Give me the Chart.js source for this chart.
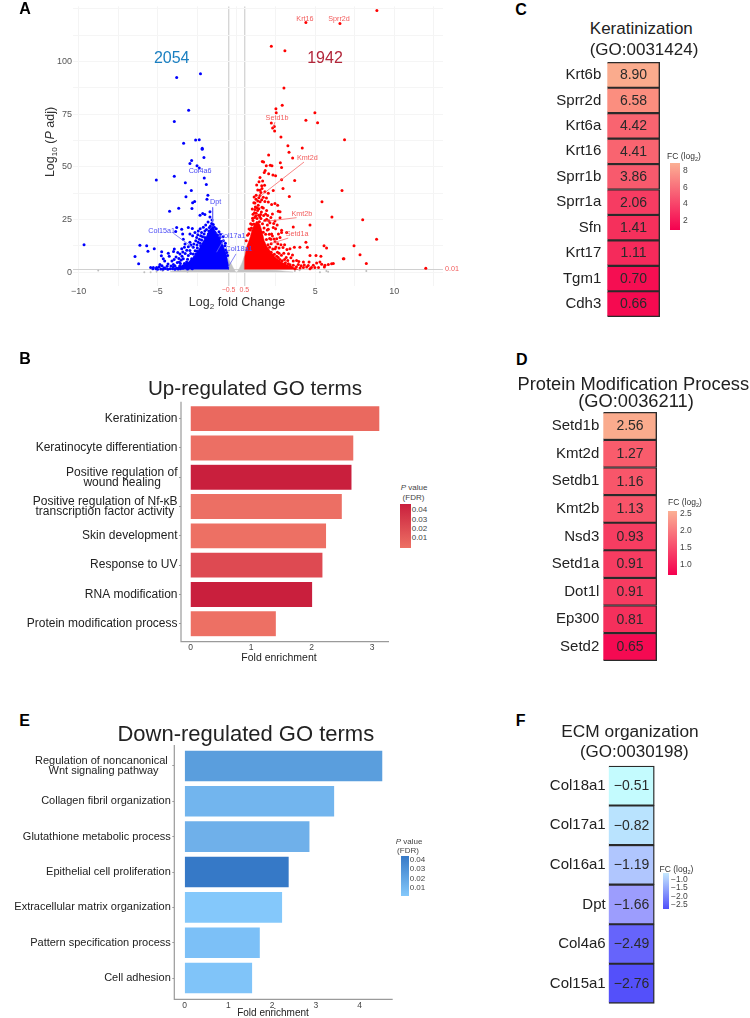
<!DOCTYPE html>
<html>
<head>
<meta charset="utf-8">
<title>Volcano, GO terms and heatmaps</title>
<script src="https://cdn.jsdelivr.net/npm/chart.js@4/dist/chart.umd.min.js"></script>
<style>
  html, body { margin: 0; padding: 0; background: #fff; width: 750px; height: 1018px; overflow: hidden; }
  canvas { position: absolute; }
  .txt { position: absolute; white-space: nowrap; transform: translate(-50%, -50%); font-family: "Liberation Sans", Arial, sans-serif; color: #222; line-height: 1; }
  .txt sub { font-size: 65%; line-height: 0; }
  .bar { position: absolute; }
</style>
</head>
<body>
<script>
// Panel A: volcano, values as [log2FC, -log10 padj]
const volcanoXTicks = [-10, -7.5, -5, -2.5, -0.5, 0, 0.5, 2.5, 5, 7.5, 10, 12.5];
const volcanoXLabels = { '-10': '−10', '-5': '−5', '-0.5': '−0.5', '0.5': '0.5', '5': '5', '10': '10' };
const volcanoYTicks = [0, 12.5, 25, 37.5, 50, 62.5, 75, 87.5, 100, 112.5, 125];
const volcanoYLabels = { '0': '0', '25': '25', '50': '50', '75': '75', '100': '100' };

const bluePoints = [
  [-2.28,94.2],[-3.79,92.5],[-3.03,76.9],[-3.94,71.5],[-3.35,61.2],[-2.59,62.8],[-2.36,62.9],[-2.17,58.9],[-2.17,58.4],[-2.06,54.5],
  [-2.84,53],[-2.95,51.6],[-2.5,50.5],[-2.36,49.5],[-3.94,45.6],[-5.08,43.8],[-2.04,44.7],[-3.24,42.5],[-1.91,41.6],[-2.86,38.8],
  [-3.2,35.8],[-1.81,36.6],[-1.87,34.7],[-2.65,33.6],[-2.78,33],[-3.66,30.4],[-2.82,30.2],[-4.24,29],[-1.68,28.7],[-2.31,27.1],
  [-2.14,27.9],[-2,27.4],[-1.68,26.2],[-9.66,13.1],[-6.12,12.8],[-5.69,12.6],[-5.21,11.2],[-5.61,10],[-6.43,7.5],[-6.2,4],
  [-4.74,9.7],[-4.76,7.8],[-4.64,6.4],[-3.94,11],[-3.99,9.8],[-4.32,9],[-4.26,7.6],[-4.55,5.3],[-4.85,3.7],[-5.27,2.2],
  [-5.44,2.3],[-5.06,2.2],[-4.72,3.1],[-4.34,3.9],[-4.09,5.3],[-3.79,21.2],[-3.47,20.4],[-3.05,21.2],[-2.8,20.7],[-3.85,19.3],
  [-3.41,18.1],[-3.37,15.7],[-2.95,18.1],[-2.78,17.3],[-2.63,18.8],[-2.42,19.6],[-2.21,18.8],[-2.52,16.5],[-2.95,14.2],[-2.74,11.8],
  [-2.95,10.3],[-3.26,13.4],[-3.47,11.1],[-3.58,8.7],[-3.83,7.2],[-3.37,6.4],[-3.05,7.9],[-2.74,8.7],[-2.84,6.4],[-3.62,4.8],
  [-4,3.7],[-3.16,4.8],[-1.57,23.1],[-1.51,20.4],[-1.64,19.3],[-1.36,18.8],[-1.11,19.2],[-1.3,16.5],[-1.78,18.1],[-2,16.5],
  [-2.21,15.3],[-2.42,14.2],[-1.93,15],[-1.05,16.5],[-0.83,15],[-0.73,12.6],[-1.72,21.2],[-1.47,22.7],[-2,19.6],[-2.27,17.3],
  [-2.48,11.5],[-2.27,12.6],[-2.57,8.7],[-2.36,6.4],[-2.69,4.4],[-2.42,3.3],[-5.1,1.6],[-4.8,1.5],[-4.5,1.8],[-4.2,1.6],
  [-4,2.5],[-3.8,2],[-3.6,3],[-3.4,1.9],[-3.2,3.5],[-3,2.1],[-2.9,4.5],[-2.7,3],[-2.6,5.5],[-2.45,7.1],
  [-3.5,5.8],[-3.3,4.2],[-3.1,6.2],[-2.85,5.3],[-2.65,7.4],[-2.5,9.9],[-2.35,9.3],[-2.15,10.2],[-2.3,13.7],[-2.05,13.3],
  [-4.4,2.8],[-4.9,2.6],[-5.3,1.7],[-3.7,1.5],[-3.1,1.5],[-2.8,1.6],
  [-3.9,3.1],[-3.75,4.6],[-3.55,4.1],[-3.45,7.6],[-3.25,8.9],[-3.15,10.4],[-3.05,12.1],[-2.9,8.9],[-2.88,12.9],[-2.7,13.4],
  [-2.62,10.2],[-2.58,14.9],[-2.5,12.9],[-2.45,17.8],[-2.35,15.6],[-2.3,20.6],[-2.15,16.9],[-2.1,21.3],[-2.05,18.2],[-1.95,22.4],
  [-1.9,20.3],[-1.8,23.9],[-1.75,19.6],[-1.65,22],[-1.55,24.8],[-1.4,21.4],[-1.28,20.6],[-1.2,17.7],[-1.02,18],[-0.95,14.6],
  [-0.85,16.9],[-0.68,10.6],[-0.62,9.4],[-0.56,7.9],[-0.7,13.8],[-3.95,6],[-4.15,3],[-4.05,1.6],[-3.65,6.5],[-3.72,9.4],
  [-3.4,9.6],[-3.3,11.8],[-4.6,2.1],[-5,1.4],[-4.65,1.4],[-4.35,1.4],[-3.9,1.4],[-3.55,1.7]
];
const redPoints = [
  [8.9,124.3],[4.4,118.5],[6.56,118.1],[2.21,107.3],[3.07,105.1],[3.01,87.5],[2.9,79.3],[2.5,77.6],[2.52,75.7],[4.97,75.7],
  [4.4,72.1],[5.14,71],[2.21,70.9],[2.4,69.2],[2.29,68.5],[2.42,67],[2.82,64.2],[6.85,62.9],[3.26,60.1],[4.17,59],
  [3.33,57],[2.04,55.6],[3.56,54.2],[1.64,52.6],[1.72,52.3],[2.78,52],[1.89,50.5],[2.14,50.8],[2.25,50.6],[2.86,49.7],
  [1.82,48.3],[1.76,47.4],[2.48,45.8],[2.04,46.7],[2.31,46.1],[1.49,45],[2.86,43.9],[3.69,43.6],[1.43,43],[1.66,43.3],
  [1.78,41.3],[1.6,41],[1.49,38.9],[2.95,39.7],[2.33,38.8],[2.02,37.5],[6.69,38.8],[3.35,36],[1.49,36.4],[1.24,34.7],
  [5.42,33.5],[1.6,34.4],[1.8,33.6],[1.17,32.9],[1.38,31.8],[2.02,33.3],[2.23,32.1],[2.44,32.6],[2.61,31.8],[1.7,30.5],
  [1.34,29.3],[1.17,29.8],[1.91,29.3],[2.76,28.7],[1.53,27.4],[6.05,26.2],[8,24.9],[4.66,22.4],[3.6,21.5],[2.86,19.9],
  [2.65,29],[2.76,25.9],[2.44,24.3],[2.12,23.5],[1.91,25.1],[2.33,21.2],[2.86,18.8],[3.18,18.8],[2.76,16.5],[2.23,18.1],
  [2.02,20.4],[3.67,11.8],[4.02,11.8],[3.39,11.1],[4.4,14.2],[4.49,11.8],[5.55,12.6],[5.71,11.5],[6.77,6.4],[4.66,7.9],
  [5.04,7.9],[5.35,7.6],[3.6,5.3],[3.81,5.6],[3.6,3.3],[3.92,3.7],[4.24,4.8],[4.6,4.8],[4.45,2.5],[4.87,3.3],
  [5.08,4.4],[4.97,2.2],[5.29,4.8],[5.61,3.3],[5.82,3.7],[6.03,4],[6.14,4.2],[5.57,2.5],[3.29,4],[3.07,2.2],
  [3.39,2.8],[4.03,2],[3.71,1.7],[4.24,2.2],[4.66,1.7],[7.45,12.6],[8.88,15.6],[7.83,8.3],[6.81,6.4],[8.23,4.2],
  [12,1.9],[0.95,21],[1.05,24.5],[1.15,26],[1.25,28],[1.3,25.5],[1.4,27],[1.45,24],[1.55,25.5],[1.65,23],
  [1.75,21],[1.8,24.5],[1.7,19],[1.85,18],[1.95,20],[1.9,15.5],[2.1,16],[2,13],[2.2,13.5],[2.3,11],
  [2.45,14.5],[2.5,12],[2.6,9.5],[2.7,11.5],[2.85,8],[3,9],[3.15,7],[2.9,5.5],[3.1,4.5],[2.4,8.5],
  [2.2,9.5],[1.9,11],[2.65,7],[2.95,3.6],[3.2,2.8],[3.4,3.5],[2.55,5],[2.1,6],[1.8,8.8],[1,30],
  [1.1,33],[1.25,36.5],[1.35,39],[1.2,31],[1.5,33.5],[1.05,27.5],[0.9,23],[0.8,20.5],
  [0.62,15],[0.7,17.5],[0.78,18.3],[0.88,20],[0.98,22.6],[1.1,22.9],[1.02,25.6],[1.14,28.2],[1.22,26.7],[1.3,30.6],
  [1.42,30.1],[1.48,26.2],[1.58,28.6],[1.62,30.9],[1.72,26.9],[1.85,27.6],[1.98,26.9],[2.05,24.4],[2.18,26],[2.28,27.7],
  [2.36,23.1],[2.48,20.6],[2.58,22.4],[2.66,18.1],[1.7,35.6],[1.9,35.2],[1.35,33.8],[1.12,35.7],[1.28,41.4],[1.55,37.9],
  [1.62,39.8],[1.42,35.3],[1.8,38.2],[1.96,22.4],[2.08,18],[2.18,15.6],[2.28,17.2],[2.38,15.8],[2.55,15.9],[2.62,13.5],
  [2.82,13.1],[2.95,11.7],[3.05,13],[3.2,10.8],[3.3,8.8],[3.45,6.9],[3.55,8.2],[3.05,6],[3.25,5.6],[3.5,2.2],
  [3.8,2.6],[3.95,5.1],[4.1,3.1],[4.3,3.4],[4.55,3.2],[4.75,2.2],[5.2,2.2],[5.4,3.8],[2.1,11.8],[2.3,8],
  [2.55,7.6],[2.75,6.1],[2.7,9],[1.95,9.3],[2.45,11.2]
];
const greyPoints = [
  [-8.76,0.8],[-5.84,0],[-5.44,0],[-5.06,0.2],[-4.68,0.6],[-3.1,0.2],[-2.84,0.6],[3.7,0.6],[4,0.9],[5.29,0],[5.7,0.6],[5.81,0.2],[8.23,0.6]
];
// Outlines of the areas too dense to tell single points apart
const blueCore = [
  [-4,1.3],[-3.47,3.3],[-3.05,4.8],[-2.63,7.9],[-2.31,11.8],[-2.1,15],[-1.89,17.3],[-1.68,20.4],[-1.51,22],[-1.34,19.6],[-1.09,16.5],[-0.83,12.6],[-0.62,7.9],[-0.5,3.3],[-0.5,1.3]
];
const redCore = [
  [0.5,1.3],[0.5,6.4],[0.64,11.8],[0.86,16.5],[1,20.4],[1.13,22.7],[1.3,24.3],[1.49,22.7],[1.64,18.8],[1.76,15],[1.91,12.6],[2.12,10.3],[2.44,7.2],[2.86,4.8],[3.28,3.3],[3.92,1.3]
];
const greyCore = [
  [-4.2,0.3],[-3.5,0.9],[-2.5,1.3],[-1.5,1.4],[-0.5,1.5],[-0.5,6],[-0.35,4.3],[-0.2,2],[-0.05,0.2],[0,0],[0.05,0.2],[0.2,2],[0.35,4.4],[0.5,7.5],[0.5,1.4],[1.5,1.2],[2.5,0.9],[3.2,0.4],[3.6,0.1]
];
const thresholdLine = [[-10.36,1.3],[13.09,1.3]];
const blueGenes = ['Col4a6', 'Dpt', 'Col15a1', 'Col17a1', 'Col18a1'];
const blueGeneSpots = [[-2.31,48.1],[-1.32,33.5],[-4.74,19.6],[-0.27,17.3],[0.16,11.2]];
const redGenes = ['Krt16', 'Sprr2d', 'Setd1b', 'Kmt2d', 'Kmt2b', 'Setd1a', '0.01'];
const redGeneSpots = [[4.34,120.4],[6.5,120.4],[2.57,73.4],[4.49,54.3],[4.15,27.6],[3.85,17.9],[13.66,1.4]];
const blueLeaders = [[[-4,18.5],[-2.78,11.8]],[[-1.51,30.8],[-1.51,23.5]],[[-0.79,15.7],[-1.26,9.5]],[[-0.03,8.7],[-0.52,2.5]]];
const redLeaders = [[[4.28,52.3],[1.49,36]],[[3.81,25.9],[1.7,24]],[[3.28,16.2],[2.23,13.7]],[[2.44,71.3],[2.33,68.7]]];

// Panel B
const upTerms = ['Keratinization', 'Keratinocyte differentiation', ['Positive regulation of', 'wound healing     '], ['Positive regulation of Nf-κB', 'transcription factor activity '], 'Skin development', 'Response to UV', 'RNA modification', 'Protein modification process'];
const upEnrichment = [3.13, 2.70, 2.67, 2.51, 2.25, 2.19, 2.02, 1.42];
const upColors = ['#EA695F', '#EC6F64', '#C91F3D', '#EC6F64', '#ED7064', '#DE4A52', '#C91F3D', '#ED7064'];
const upXTicks = [0, 1, 2, 3];

// Panel E
const downTerms = [['Regulation of noncanonical ', 'Wnt signaling pathway    '], 'Collagen fibril organization', 'Glutathione metabolic process', 'Epithelial cell proliferation', 'Extracellular matrix organization', 'Pattern specification process', 'Cell adhesion'];
const downEnrichment = [4.53, 3.43, 2.865, 2.39, 2.24, 1.73, 1.555];
const downColors = ['#5A9EDD', '#72B5EE', '#6FB0EA', '#3679C7', '#84C8FB', '#7CC0F7', '#80C4F9'];
const downXTicks = [0, 1, 2, 3, 4];

// Panels C, D, F
const keratGenes = ['Krt6b', 'Sprr2d', 'Krt6a', 'Krt16', 'Sprr1b', 'Sprr1a', 'Sfn', 'Krt17', 'Tgm1', 'Cdh3'];
const keratFc = [8.90, 6.58, 4.42, 4.41, 3.86, 2.06, 1.41, 1.11, 0.70, 0.66];
const keratColors = ['#FAAB8D', '#FB8E7F', '#F96470', '#F96470', '#F85A6D', '#F63C62', '#F5305C', '#F52A5B', '#F50E52', '#F50A50'];
const protGenes = ['Setd1b', 'Kmt2d', 'Setdb1', 'Kmt2b', 'Nsd3', 'Setd1a', 'Dot1l', 'Ep300', 'Setd2'];
const protFc = [2.56, 1.27, 1.16, 1.13, 0.93, 0.91, 0.91, 0.81, 0.65];
const protColors = ['#FAAB8D', '#F95C6C', '#F8566A', '#F85469', '#F63D61', '#F63C61', '#F63C61', '#F5305C', '#F50A52'];
const ecmGenes = ['Col18a1', 'Col17a1', 'Col16a1', 'Dpt', 'Col4a6', 'Col15a1'];
const ecmFc = [-0.51, -0.82, -1.19, -1.66, -2.49, -2.76];
const ecmColors = ['#C4FBFE', '#B9E3FE', '#B0C6FE', '#9C9DFD', '#6664FB', '#5450FA'];

Chart.defaults.font.family = '"Liberation Sans", Arial, sans-serif';
Chart.defaults.animation = false;

function addText(html, x, y, size, color, extra) {
    const el = document.createElement('div');
    el.className = 'txt';
    el.innerHTML = html;
    el.style.left = x + 'px';
    el.style.top = y + 'px';
    el.style.fontSize = size + 'px';
    if (color) el.style.color = color;
    if (extra) Object.assign(el.style, extra);
    document.body.appendChild(el);
}

function addCanvas(box) {
    const canvas = document.createElement('canvas');
    canvas.width = box.w;
    canvas.height = box.h;
    canvas.style.left = box.x + 'px';
    canvas.style.top = box.y + 'px';
    canvas.style.width = box.w + 'px';
    canvas.style.height = box.h + 'px';
    document.body.appendChild(canvas);
    return canvas.getContext('2d');
}

// padding and fixed axis sizes so the chart area lands on the wanted page position
function pinArea(box, area) {
    return {
        padding: { top: area.top - box.y, right: box.x + box.w - area.right, left: 0, bottom: 0 },
        yWidth: area.left - box.x,
        xHeight: box.y + box.h - area.bottom
    };
}

function toPoints(list) {
    return list.map(p => ({ x: p[0], y: p[1] }));
}

function addGradientLegend(legend) {
    const bar = document.createElement('div');
    bar.className = 'bar';
    bar.style.left = legend.x + 'px';
    bar.style.top = legend.y + 'px';
    bar.style.width = legend.w + 'px';
    bar.style.height = legend.h + 'px';
    bar.style.background = 'linear-gradient(to bottom, ' + legend.top + ', ' + legend.bottom + ')';
    document.body.appendChild(bar);
    legend.labels.forEach((label, i) => {
        addText(label, legend.labelX, legend.labelY[i], legend.size, '#444', { transform: 'translate(0, -50%)' });
    });
}

// text at data coordinates inside the volcano
const geneLabelPlugin = {
    id: 'geneLabels',
    afterDatasetsDraw(chart) {
        const { ctx, scales } = chart;
        ctx.save();
        ctx.font = '7.2px "Liberation Sans", Arial, sans-serif';
        ctx.textAlign = 'center';
        ctx.textBaseline = 'middle';
        ctx.fillStyle = '#4B4BF5';
        blueGenes.forEach((name, i) => {
            ctx.fillText(name, scales.x.getPixelForValue(blueGeneSpots[i][0]), scales.y.getPixelForValue(blueGeneSpots[i][1]));
        });
        ctx.fillStyle = '#F25C5C';
        redGenes.forEach((name, i) => {
            ctx.fillText(name, scales.x.getPixelForValue(redGeneSpots[i][0]), scales.y.getPixelForValue(redGeneSpots[i][1]));
        });
        ctx.restore();
    }
};

// the two fold change cut offs get their own look on the x axis
function isCutoffTick(c) {
    return c.tick && Math.abs(c.tick.value) === 0.5;
}

function drawVolcano() {
    const box = { x: 0, y: 0, w: 500, h: 300 };
    const pin = pinArea(box, { left: 73, right: 443, top: 2, bottom: 286 });
    const dotStyle = (color, size) => ({ type: 'scatter', showLine: false, pointRadius: size, pointBorderWidth: 0, pointBackgroundColor: color, clip: false });
    const lineStyle = (color, width) => ({ type: 'scatter', showLine: true, pointRadius: 0, borderColor: color, borderWidth: width, tension: 0 });
    const datasets = [];
    blueLeaders.forEach(l => datasets.push({ ...lineStyle('#6A6AF5', 0.8), data: toPoints(l) }));
    redLeaders.forEach(l => datasets.push({ ...lineStyle('#F56A6A', 0.8), data: toPoints(l) }));
    datasets.push({ ...dotStyle('#FF0000', 1.5), data: toPoints(redPoints) });
    datasets.push({ ...dotStyle('#0000FF', 1.5), data: toPoints(bluePoints) });
    datasets.push({ ...lineStyle('#FF0000', 0.5), data: toPoints(redCore), backgroundColor: '#FF0000', fill: { value: 1.3 } });
    datasets.push({ ...lineStyle('#0000FF', 0.5), data: toPoints(blueCore), backgroundColor: '#0000FF', fill: { value: 1.3 } });
    datasets.push({ ...lineStyle('#C4C4C4', 0.5), data: toPoints(greyCore), backgroundColor: '#C4C4C4', fill: 'origin' });
    datasets.push({ ...dotStyle('#BDBDBD', 1), data: toPoints(greyPoints) });
    datasets.push({ ...lineStyle('#D0D0D0', 1), data: toPoints(thresholdLine) });

    new Chart(addCanvas(box), {
        type: 'scatter',
        data: { datasets },
        plugins: [geneLabelPlugin],
        options: {
            responsive: false,
            layout: { autoPadding: false, padding: pin.padding },
            plugins: { legend: { display: false }, title: { display: false }, tooltip: { enabled: false } },
            scales: {
                x: {
                    type: 'linear',
                    min: -10.36,
                    max: 13.09,
                    afterBuildTicks: s => { s.ticks = volcanoXTicks.map(v => ({ value: v })); },
                    afterFit: s => { s.height = pin.xHeight; },
                    border: { display: false },
                    grid: {
                        drawTicks: false,
                        color: c => (isCutoffTick(c) ? '#D6D6D6' : '#F4F4F4'),
                        lineWidth: c => (isCutoffTick(c) ? 1.4 : 1)
                    },
                    ticks: {
                        autoSkip: false,
                        maxRotation: 0,
                        padding: 0,
                        callback: v => volcanoXLabels[String(v)] || '',
                        color: c => (isCutoffTick(c) ? '#F25C5C' : '#555'),
                        font: c => ({ size: isCutoffTick(c) ? 7 : 9 })
                    }
                },
                y: {
                    type: 'linear',
                    min: -6.54,
                    max: 126.2,
                    afterBuildTicks: s => { s.ticks = volcanoYTicks.map(v => ({ value: v })); },
                    afterFit: s => { s.width = pin.yWidth; },
                    border: { display: false },
                    grid: { drawTicks: false, color: '#F5F5F5' },
                    ticks: {
                        autoSkip: false,
                        padding: 1,
                        color: '#555',
                        font: { size: 9 },
                        callback: v => volcanoYLabels[String(v)] || ''
                    }
                }
            }
        }
    });

    addText('2054', 171.7, 58, 16, '#1A7FC1');
    addText('1942', 325, 58, 16, '#B2263A');
    addText('Log<sub>2</sub> fold Change', 237, 302, 12.5, '#333');
    addText('Log<sub>10</sub> (<i>P</i> adj)', 50, 142, 12.5, '#333', { transform: 'translate(-50%, -50%) rotate(-90deg)' });
}

// L-shaped axis line that runs a little past the bands, like the ggplot expansion
function axisLinePlugin(left, right, top, bottom) {
    return {
        id: 'axisLine',
        afterDraw(chart) {
            const { ctx, canvas } = chart;
            const rect = canvas.getBoundingClientRect();
            ctx.save();
            ctx.strokeStyle = '#9A9A9A';
            ctx.lineWidth = 1.2;
            ctx.beginPath();
            ctx.moveTo(left - rect.left, top - rect.top);
            ctx.lineTo(left - rect.left, bottom - rect.top);
            ctx.lineTo(right - rect.left, bottom - rect.top);
            ctx.stroke();
            ctx.restore();
        }
    };
}

function drawGoBars(cfg) {
    const pin = pinArea(cfg.box, cfg.area);
    new Chart(addCanvas(cfg.box), {
        type: 'bar',
        data: {
            labels: cfg.terms,
            datasets: [{
                data: cfg.values,
                backgroundColor: cfg.colors,
                borderColor: 'rgba(255,255,255,0.35)',
                borderWidth: 0.6,
                barPercentage: cfg.barPercentage,
                categoryPercentage: 1
            }]
        },
        plugins: [axisLinePlugin(cfg.area.left, cfg.area.right, cfg.axisTop, cfg.axisBottom)],
        options: {
            indexAxis: 'y',
            responsive: false,
            layout: { autoPadding: false, padding: pin.padding },
            plugins: { legend: { display: false }, title: { display: false }, tooltip: { enabled: false } },
            scales: {
                x: {
                    type: 'linear',
                    min: cfg.xMin,
                    max: cfg.xMax,
                    afterBuildTicks: s => { s.ticks = cfg.xTicks.map(v => ({ value: v })); },
                    afterFit: s => { s.height = pin.xHeight; },
                    border: { display: false },
                    grid: { display: false, drawTicks: false },
                    ticks: { padding: cfg.xTickPad, color: '#444', font: { size: 8.5 }, maxRotation: 0 }
                },
                y: {
                    afterFit: s => { s.width = pin.yWidth; },
                    border: { display: false },
                    grid: { offset: false, drawOnChartArea: false, drawTicks: true, tickLength: 2, color: '#9A9A9A' },
                    ticks: { padding: 1.5, color: '#222', font: { size: cfg.labelSize, lineHeight: 0.84 }, autoSkip: false }
                }
            }
        }
    });
}

// one column heatmap, each cell is a full width bar, the number comes from the fc list
function drawHeatColumn(cfg) {
    const pin = pinArea(cfg.box, cfg.area);
    // no visible x axis here, so the space below the column has to come from padding
    pin.padding.bottom = pin.xHeight;
    const cellText = {
        id: 'cellText',
        afterDatasetsDraw(chart) {
            const { ctx, scales } = chart;
            ctx.save();
            ctx.font = '14px "Liberation Sans", Arial, sans-serif';
            ctx.textAlign = 'center';
            ctx.textBaseline = 'middle';
            ctx.fillStyle = '#2A2A2A';
            cfg.fc.forEach((v, i) => {
                const label = v.toFixed(2).replace('-', '−');
                ctx.fillText(label, scales.x.getPixelForValue(0.5), scales.y.getPixelForTick(i) + 0.5);
            });
            ctx.restore();
        }
    };
    new Chart(addCanvas(cfg.box), {
        type: 'bar',
        data: {
            labels: cfg.genes,
            datasets: [{
                data: cfg.fc.map(() => 1),
                backgroundColor: cfg.colors,
                borderColor: '#2A2A2A',
                borderWidth: 1.4,
                barPercentage: 1,
                categoryPercentage: 1,
                clip: false
            }]
        },
        plugins: [cellText],
        options: {
            indexAxis: 'y',
            responsive: false,
            layout: { autoPadding: false, padding: pin.padding },
            plugins: { legend: { display: false }, title: { display: false }, tooltip: { enabled: false } },
            scales: {
                x: { type: 'linear', min: 0, max: 1, display: false },
                y: {
                    afterFit: s => { s.width = pin.yWidth; },
                    border: { display: false },
                    grid: { display: false, drawTicks: false },
                    ticks: { padding: cfg.tickPad, color: '#222', font: { size: 15 }, autoSkip: false }
                }
            }
        }
    });
}

drawVolcano();

drawGoBars({
    box: { x: 0, y: 395, w: 400, h: 270 },
    area: { left: 181, right: 389, top: 404, bottom: 638.4 },
    axisTop: 401.7,
    axisBottom: 641.7,
    terms: upTerms,
    values: upEnrichment,
    colors: upColors,
    xMin: -0.157,
    xMax: 3.28,
    xTicks: upXTicks,
    xTickPad: 4,
    labelSize: 12,
    barPercentage: 0.89
});

drawGoBars({
    box: { x: 0, y: 740, w: 400, h: 275 },
    area: { left: 174.3, right: 392.7, top: 748.3, bottom: 995.7 },
    axisTop: 745,
    axisBottom: 999.3,
    terms: downTerms,
    values: downEnrichment,
    colors: downColors,
    xMin: -0.238,
    xMax: 4.754,
    xTicks: downXTicks,
    xTickPad: 5,
    labelSize: 11,
    barPercentage: 0.9
});

drawHeatColumn({
    box: { x: 500, y: 40, w: 170, h: 300 },
    area: { left: 607.3, right: 659.7, top: 62.3, bottom: 316.7 },
    genes: keratGenes, fc: keratFc, colors: keratColors, tickPad: 6
});
drawHeatColumn({
    box: { x: 500, y: 390, w: 170, h: 290 },
    area: { left: 603.3, right: 656.7, top: 412.3, bottom: 660.7 },
    genes: protGenes, fc: protFc, colors: protColors, tickPad: 4
});
drawHeatColumn({
    box: { x: 500, y: 744, w: 170, h: 274 },
    area: { left: 608.7, right: 654.3, top: 766, bottom: 1003.3 },
    genes: ecmGenes, fc: ecmFc, colors: ecmColors, tickPad: 3
});

// panel letters
addText('A', 25, 9, 16, '#000', { fontWeight: 'bold' });
addText('B', 25, 359, 16, '#000', { fontWeight: 'bold' });
addText('C', 521, 9.5, 16, '#000', { fontWeight: 'bold' });
addText('D', 521.7, 360, 16, '#000', { fontWeight: 'bold' });
addText('E', 24.5, 720.7, 16, '#000', { fontWeight: 'bold' });
addText('F', 520.7, 720.7, 16, '#000', { fontWeight: 'bold' });

// titles
addText('Up-regulated GO terms', 255, 388, 20.6, '#222');
addText('Fold enrichment', 279, 656.7, 10.5, '#222');
addText('Down-regulated GO terms', 245.8, 734.3, 22, '#222');
addText('Fold enrichment', 273, 1013, 10, '#222');
addText('Keratinization', 641.3, 28, 17, '#222');
addText('(GO:0031424)', 644, 49.3, 17, '#222');
addText('Protein Modification Process', 633.3, 384.3, 18.3, '#222');
addText('(GO:0036211)', 636, 400.7, 18.3, '#222');
addText('ECM organization', 630, 731.7, 17.3, '#222');
addText('(GO:0030198)', 634.3, 751, 17, '#222');

// colour bar legends
addText('<i>P</i> value', 414, 488, 8, '#444');
addText('(FDR)', 413.5, 498.3, 8, '#444');
addGradientLegend({ x: 400, y: 504.3, w: 10.7, h: 43.4, top: '#C91F3D', bottom: '#ED7064', labels: ['0.04', '0.03', '0.02', '0.01'], labelX: 411.7, labelY: [510.3, 520, 529, 538.3], size: 8 });
addText('<i>P</i> value', 409, 841.7, 8, '#444');
addText('(FDR)', 408, 851, 8, '#444');
addGradientLegend({ x: 401, y: 856, w: 7.7, h: 40, top: '#3679C7', bottom: '#84C8FB', labels: ['0.04', '0.03', '0.02', '0.01'], labelX: 409.7, labelY: [860, 869.3, 879, 888.3], size: 8 });

addText('FC (log<sub>2</sub>)', 684, 155.5, 8.5, '#333');
addGradientLegend({ x: 670, y: 163.3, w: 10, h: 66.7, top: '#FBB094', bottom: '#F5004F', labels: ['8', '6', '4', '2'], labelX: 683, labelY: [170, 186.7, 203.3, 220], size: 8.5 });
addText('FC (log<sub>2</sub>)', 685, 502, 8.5, '#333');
addGradientLegend({ x: 667.7, y: 510.7, w: 9.6, h: 64.6, top: '#FBB094', bottom: '#F5004F', labels: ['2.5', '2.0', '1.5', '1.0'], labelX: 680, labelY: [512.7, 529.7, 546.7, 563.7], size: 8.5 });
addText('FC (log<sub>2</sub>)', 676.5, 868.7, 8.5, '#333');
addGradientLegend({ x: 663.3, y: 873.3, w: 6, h: 36, top: '#C5E8FE', bottom: '#5050FA', labels: ['−1.0', '−1.5', '−2.0', '−2.5'], labelX: 671, labelY: [879, 887.3, 895.7, 904], size: 8.5 });
</script>
</body>
</html>
